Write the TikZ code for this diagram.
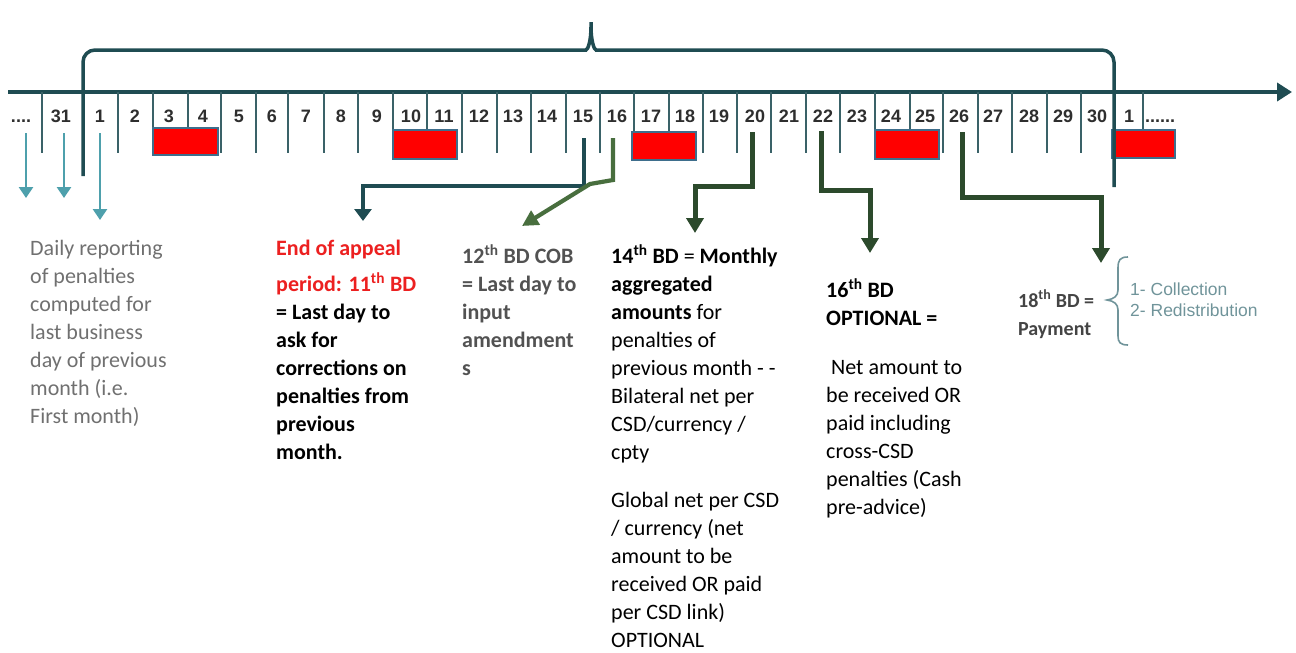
\documentclass[tikz,border=0pt]{standalone}
\usepackage{fontspec}
\setmainfont{Carlito}
\newfontfamily\arialfont{Liberation Sans}
\usepackage{xcolor}
\usetikzlibrary{positioning,arrows.meta}

\definecolor{slate}{RGB}{31,76,82}
\definecolor{tickslate}{RGB}{58,98,104}
\definecolor{reportteal}{RGB}{78,160,172}
\definecolor{darkleaf}{RGB}{44,74,44}
\definecolor{leaf}{RGB}{72,110,62}
\definecolor{appealred}{RGB}{236,32,32}
\definecolor{boxedge}{RGB}{62,110,140}
\definecolor{notegray}{RGB}{112,112,112}
\definecolor{cobgray}{RGB}{82,82,82}
\definecolor{paygray}{RGB}{68,68,68}
\definecolor{stepgray}{RGB}{112,148,154}

\begin{document}
\begin{tikzpicture}[x=1pt, y=-1pt,
    dayline/.style={draw=tickslate, line width=2.2pt},
    daylabel/.style={font=\arialfont\bfseries\fontsize{18}{18}\selectfont, text=black!82, inner sep=0pt},
    holiday/.style={draw=boxedge, line width=1.3pt, fill=red, inner sep=0pt},
    bracket/.style={draw=slate, line width=3.5pt, rounded corners=12pt},
    reportarrow/.style={draw=reportteal, line width=2.8pt, -{Triangle[length=11pt,width=14pt]}},
    slatearrow/.style={draw=slate, line width=4pt, -{Triangle[length=12pt,width=17pt]}},
    leafarrow/.style={draw=leaf, line width=4.2pt, -{Triangle[length=16pt,width=16pt]}},
    darkarrow/.style={draw=darkleaf, line width=5pt, -{Triangle[length=15pt,width=17pt]}},
    textblock/.style={anchor=base west, align=left, inner sep=0pt, font=\fontsize{22}{28}\selectfont},
    boldblock/.style={textblock, font=\bfseries\fontsize{22}{28}\selectfont}]
    \useasboundingbox (0,0) rectangle (1296,653);

    % Time axis
    \coordinate (axisL) at (8,92);
    \coordinate (axisR) at (1292,92);
    \draw [draw=slate, line width=4.5pt, -{Triangle[length=15pt,width=18pt]}] (axisL) -- (axisR);

    % Day ticks and labels
    \foreach \x in {42,118,153,188,221,256,288,324,358,393,427,462,497,531,566,600,634,669,703,737,771,806,840,875,910,943,978,1012,1047,1081,1143}
        \draw [dayline] (\x,92) -- (\x,153);
    \foreach \x/\d [count=\i] in {61/31,100/1,135/2,169/3,203/4,239/5,272/6,306/7,341/8,377/9,411/10,444/11,479/12,513/13,547/14,583/15,617/16,651/17,685/18,719/19,755/20,789/21,823/22,857/23,891/24,925/25,959/26,993/27,1029/28,1063/29,1097/30,1129/1}
        \node [daylabel, anchor=base] (lab\i) at (\x,122) {\d};
    \node [daylabel, anchor=base] (dotsL) at (21,122) {....};
    \node [daylabel, anchor=base] (dotsR) at (1160,122) {......};

    % Non-business days
    \node [holiday, minimum width=65pt, minimum height=27pt] (off1) at (185.5,141.5) {};
    \node [holiday, minimum width=64pt, minimum height=29pt] (off2) at (425,144.5) {};
    \node [holiday, minimum width=64pt, minimum height=28pt] (off3) at (664,146) {};
    \node [holiday, minimum width=64pt, minimum height=29pt] (off4) at (907,144.5) {};
    \node [holiday, minimum width=63pt, minimum height=28pt] (off5) at (1143.5,144) {};

    % Month brace
    \coordinate (braceL) at (83,176);
    \coordinate (braceTop) at (591,15);
    \coordinate (braceR) at (1114,187);
    \draw [bracket] (braceL) |- (574,50) .. controls (588,50) and (591,40) .. (braceTop)
        .. controls (591,40) and (594,50) .. (608,50) -| (braceR);

    % Daily reporting arrows
    \coordinate (rep1) at (26,133);  \coordinate (rep1end) at (26,198);
    \coordinate (rep2) at (64,133);  \coordinate (rep2end) at (64,198);
    \coordinate (rep3) at (100,133); \coordinate (rep3end) at (100,220);
    \draw [reportarrow] (rep1) -- (rep1end);
    \draw [reportarrow] (rep2) -- (rep2end);
    \draw [reportarrow] (rep3) -- (rep3end);

    % Deadline arrows
    \coordinate (from15) at (584,138); \coordinate (to15) at (363,221);
    \coordinate (from16) at (613,138); \coordinate (to16) at (522,226);
    \coordinate (from20) at (752,132); \coordinate (to20) at (695,233);
    \coordinate (from22) at (821,131); \coordinate (to22) at (870,253);
    \coordinate (from26) at (962,132); \coordinate (to26) at (1101,263);
    \draw [slatearrow] (from15) -- ++(0,48) -| (to15);
    \draw [leafarrow] (from16) -- ++(0,42) -- (590,184) -- (to16);
    \draw [darkarrow] (from20) -- ++(0,54) -| (to20);
    \draw [darkarrow] (from22) -- ++(0,59) -| (to22);
    \draw [darkarrow] (from26) -- ++(0,65) -| (to26);

    % Notes (placed by the baseline of their last line)
    \node [textblock, text=notegray] (daily) at (30,423) {Daily reporting\\of penalties\\computed for\\last business\\day of previous\\month (i.e.\\First month)};
    \node [boldblock] (appeal) at (276,459) {\textcolor{appealred}{End of appeal}\\[8pt]\textcolor{appealred}{period: 11\textsuperscript{th} BD}\\= Last day to\\ask for\\corrections on\\penalties from\\previous\\month.};
    \node [boldblock, text=cobgray] (cob) at (462,375) {12\textsuperscript{th} BD COB\\= Last day to\\input\\amendment\\s};
    \node [textblock] (monthly) at (611,647) {\textbf{14\textsuperscript{th} BD} = \textbf{Monthly}\\\textbf{aggregated}\\\textbf{amounts} for\\penalties of\\previous month - -\\Bilateral net per\\CSD/currency /\\cpty\\[20pt]Global net per CSD\\/ currency (net\\amount to be\\received OR paid\\per CSD link)\\OPTIONAL};
    \node [textblock] (optional) at (826,514) {\textbf{16\textsuperscript{th} BD}\\\textbf{OPTIONAL =}\\[21pt]\ Net amount to\\be received OR\\paid including\\cross-CSD\\penalties (Cash\\pre-advice)};
    \node [boldblock, text=paygray, font=\bfseries\fontsize{20}{28}\selectfont] (payment) at (1018,335) {18\textsuperscript{th} BD =\\Payment};

    % Payment steps
    \draw [draw=stepgray, line width=1.6pt] (1128,257) .. controls (1120,257) and (1118,260) .. (1118,268) -- (1118,290)
        .. controls (1118,296) and (1114,299) .. (1107,300) .. controls (1114,301) and (1118,304) .. (1118,310)
        -- (1118,336) .. controls (1118,342) and (1120,345) .. (1128,345);
    \node [anchor=base west, align=left, inner sep=0pt, text=stepgray, font=\arialfont\fontsize{17.5}{21}\selectfont] (steps) at (1130,316) {1- Collection\\2- Redistribution};
\end{tikzpicture}
\end{document}
